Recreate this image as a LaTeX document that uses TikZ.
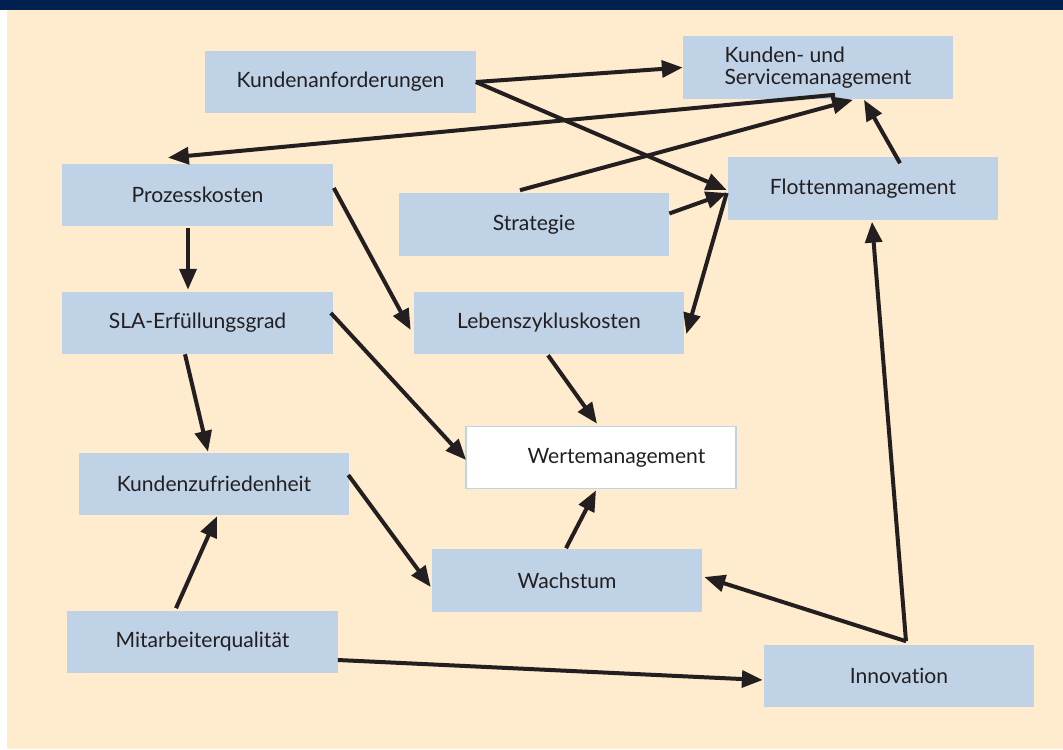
\documentclass[tikz,border=0pt]{standalone}
\usepackage{fontspec}
\setmainfont{Lato}[Ligatures={NoCommon}]
\usetikzlibrary{
        arrows.meta,
        calc,
        positioning
    }
\definecolor{bgpeach}{RGB}{255,235,205}
\definecolor{boxblue}{RGB}{191,210,230}
\definecolor{topnavy}{RGB}{0,32,80}
\definecolor{ink}{RGB}{35,31,32}
\tikzset{>={Triangle[length=0.52cm,width=0.42cm]},x=0.025cm,y=-0.025cm}
\tikzset{box/.style={fill=boxblue,minimum width=6.75cm,minimum height=1.55cm,inner sep=0pt,
        text=ink,font=\fontsize{15}{16}\selectfont},
    valuebox/.style={box,fill=white,draw=boxblue,line width=1.2pt}}

\begin{document}
\begin{tikzpicture}
                \useasboundingbox (0,0) rectangle (1063,749);
                \fill[white] (0,0) rectangle (1063,749);
                \fill[bgpeach] (7,10) rectangle (1063,749);
                \fill[topnavy] (0,0) rectangle (1063,10);

                \node[box] (kanf)   at (340.5,82)  {Kundenanforderungen};
                \node[box,align=left] (ksm) at (818,67.5) {Kunden- und\\Servicemanagement};
                \node[box] (proz)   at (197.5,195) {Prozesskosten};
                \node[box] (strat)  at (534,224.5) {Strategie};
                \node[box] (flot)   at (863,188.5) {Flottenmanagement};
                \node[box] (sla)    at (197.5,323) {SLA-Erfüllungsgrad};
                \node[box] (leben)  at (549,323)   {Lebenszykluskosten};
                \node[valuebox] (werte) at (601,457.5) {\hspace{22pt}Wertemanagement};
                \node[box] (kzuf)   at (214,484)   {Kundenzufriedenheit};
                \node[box] (wachs)  at (567,580.5) {Wachstum};
                \node[box] (mitarb) at (202.5,641.5) {Mitarbeiterqualität\hspace{14pt}};
                \node[box] (innov)  at (899,675.5) {Innovation};

                \path[->,color=ink,line width=0.1cm]
                    (kanf.east) edge (ksm.west)
                    (kanf.east) edge ($(flot.west)+(-1,1.5)$)
                    ($(ksm.south)+(17,-4)$) edge ($(proz.north)+(-29.5,-6)$)
                    ($(strat.north)+(-14,-3)$) edge ($(ksm.south)+(35,1)$)
                    ($(flot.north)+(37,6)$) edge ($(ksm.south)+(46,1)$)
                    ($(strat.east)+(0,-11)$) edge ($(flot.west)+(-1,4.5)$)
                    ($(flot.west)+(-1,4.5)$) edge ($(leben.east)+(2,11)$)
                    ($(proz.south)+(-9.5,2)$) edge ($(sla.north)+(-9.5,-2)$)
                    ($(proz.east)+(1,-7)$) edge ($(leben.west)+(-3,7)$)
                    ($(sla.south)+(-12.5,0)$) edge ($(kzuf.north)+(-6,-1)$)
                    ($(sla.east)+(-2,-10)$) edge ($(werte.west)+(1,2.5)$)
                    ($(leben.south)+(-1,1)$) edge ($(werte.north)+(-4,-2)$)
                    ($(kzuf.east)+(-1,-9)$) edge ($(wachs.west)+(-1,6.5)$)
                    ($(wachs.north)+(-1,-1)$) edge ($(werte.south)+(-5,1)$)
                    ($(mitarb.north)+(-26.5,-2)$) edge ($(kzuf.south)+(3,1)$)
                    ($(mitarb.east)+(0,18.5)$) edge ($(innov.west)+(-1,4.5)$)
                    ($(innov.north)+(7,-3)$) edge ($(flot.south)+(9,2)$)
                    ($(innov.north)+(7,-3)$) edge ($(wachs.east)+(2,-3.5)$)
                    ;
            \end{tikzpicture}
\end{document}
